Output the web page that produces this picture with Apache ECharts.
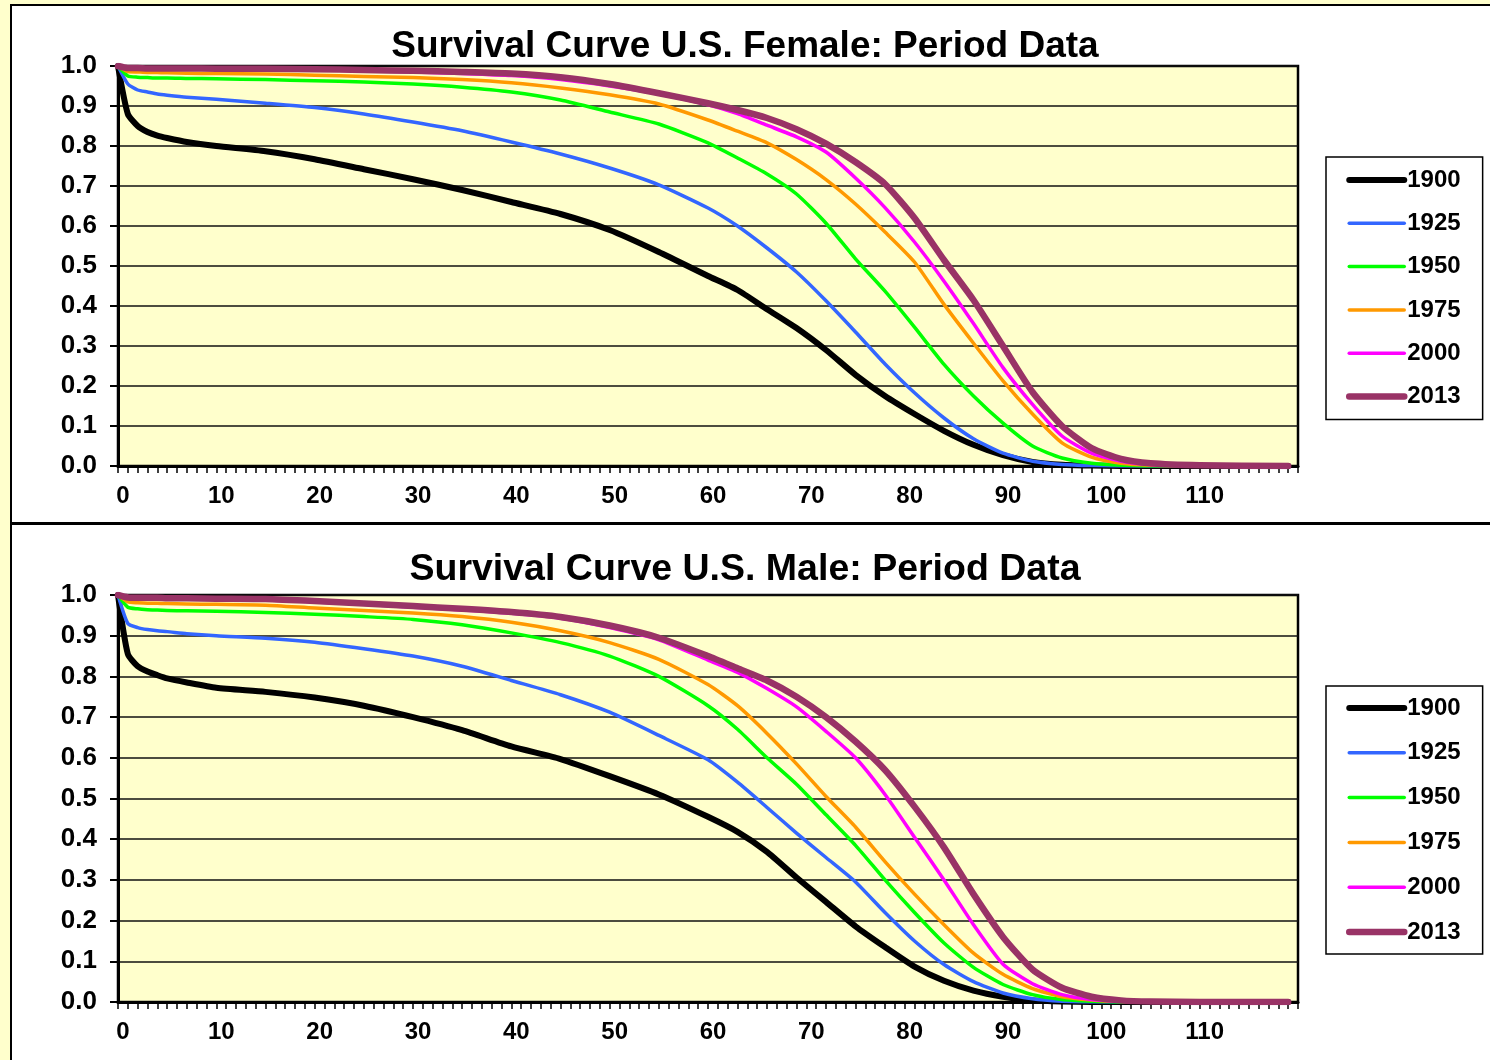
<!DOCTYPE html>
<html>
<head>
<meta charset="utf-8">
<title>Survival Curves U.S.</title>
<script src="https://cdn.jsdelivr.net/npm/echarts@6/dist/echarts.min.js"></script>
<style>
  html, body { margin: 0; padding: 0; background: #FFFFCC; }
  #main { width: 1490px; height: 1060px; }
</style>
</head>
<body>
<div id="main"></div>
<script>
// ages (years) shared by every curve
const ages = [0, 1, 2, 3, 4, 5, 7, 10, 15, 20, 25, 30, 35, 40, 45, 50, 55, 60, 63, 66, 69, 72, 75, 78, 81, 84, 87, 90, 93, 96, 99, 102, 105, 110, 119]

const years = ['1900', '1925', '1950', '1975', '2000', '2013']

// female, fraction surviving
const female1900 = [1.0, 0.88, 0.85, 0.835, 0.826, 0.82, 0.81, 0.80, 0.787, 0.767, 0.742, 0.717, 0.69, 0.66, 0.63, 0.59, 0.535, 0.475, 0.44, 0.392, 0.345, 0.29, 0.228, 0.175, 0.13, 0.088, 0.053, 0.027, 0.01, 0.003, 0.001, 0, 0, 0, 0]
const female1925 = [1.0, 0.955, 0.94, 0.935, 0.93, 0.927, 0.922, 0.917, 0.907, 0.896, 0.88, 0.86, 0.838, 0.81, 0.78, 0.745, 0.703, 0.645, 0.6, 0.545, 0.485, 0.413, 0.335, 0.255, 0.183, 0.12, 0.068, 0.032, 0.012, 0.004, 0.001, 0, 0, 0, 0]
const female1950 = [1.0, 0.975, 0.972, 0.971, 0.97, 0.97, 0.969, 0.968, 0.966, 0.963, 0.96, 0.955, 0.947, 0.935, 0.915, 0.885, 0.855, 0.808, 0.77, 0.73, 0.68, 0.607, 0.518, 0.437, 0.347, 0.254, 0.175, 0.107, 0.05, 0.02, 0.007, 0.002, 0, 0, 0]
const female1975 = [1.0, 0.986, 0.985, 0.984, 0.984, 0.983, 0.982, 0.981, 0.98, 0.977, 0.974, 0.971, 0.966, 0.958, 0.945, 0.928, 0.905, 0.865, 0.837, 0.808, 0.766, 0.716, 0.655, 0.585, 0.51, 0.404, 0.307, 0.213, 0.13, 0.058, 0.022, 0.007, 0.002, 0, 0]
const female2000 = [1.0, 0.994, 0.994, 0.993, 0.993, 0.993, 0.993, 0.992, 0.991, 0.99, 0.988, 0.985, 0.981, 0.976, 0.966, 0.95, 0.93, 0.903, 0.881, 0.852, 0.823, 0.785, 0.72, 0.646, 0.56, 0.462, 0.356, 0.246, 0.154, 0.075, 0.032, 0.012, 0.004, 0.001, 0]
const female2013 = [1.0, 0.995, 0.995, 0.994, 0.994, 0.994, 0.994, 0.993, 0.993, 0.992, 0.99, 0.988, 0.985, 0.981, 0.972, 0.955, 0.932, 0.907, 0.89, 0.87, 0.842, 0.806, 0.76, 0.705, 0.62, 0.515, 0.415, 0.3, 0.185, 0.1, 0.045, 0.018, 0.007, 0.002, 0]

// male, fraction surviving
const male1900 = [1.0, 0.855, 0.825, 0.812, 0.803, 0.795, 0.785, 0.772, 0.762, 0.748, 0.728, 0.70, 0.668, 0.628, 0.597, 0.555, 0.51, 0.455, 0.418, 0.369, 0.306, 0.246, 0.186, 0.135, 0.087, 0.052, 0.028, 0.013, 0.004, 0.001, 0, 0, 0, 0, 0]
const male1925 = [1.0, 0.93, 0.92, 0.915, 0.912, 0.91, 0.905, 0.9, 0.894, 0.884, 0.868, 0.85, 0.825, 0.79, 0.755, 0.712, 0.655, 0.595, 0.54, 0.478, 0.415, 0.355, 0.295, 0.22, 0.15, 0.092, 0.05, 0.022, 0.008, 0.002, 0, 0, 0, 0, 0]
const male1950 = [1.0, 0.97, 0.966, 0.964, 0.963, 0.962, 0.961, 0.96, 0.957, 0.953, 0.947, 0.94, 0.927, 0.907, 0.883, 0.85, 0.8, 0.728, 0.67, 0.6, 0.535, 0.46, 0.385, 0.30, 0.22, 0.145, 0.085, 0.043, 0.018, 0.006, 0.002, 0, 0, 0, 0]
const male1975 = [1.0, 0.983, 0.981, 0.98, 0.98, 0.979, 0.978, 0.977, 0.975, 0.968, 0.962, 0.956, 0.947, 0.933, 0.912, 0.883, 0.842, 0.78, 0.728, 0.66, 0.585, 0.505, 0.43, 0.345, 0.265, 0.19, 0.12, 0.068, 0.033, 0.013, 0.005, 0.001, 0, 0, 0]
const male2000 = [1.0, 0.993, 0.992, 0.992, 0.992, 0.991, 0.991, 0.99, 0.988, 0.983, 0.977, 0.97, 0.963, 0.955, 0.943, 0.92, 0.89, 0.84, 0.81, 0.77, 0.725, 0.665, 0.6, 0.51, 0.405, 0.3, 0.19, 0.093, 0.045, 0.018, 0.006, 0.002, 0, 0, 0]
const male2013 = [1.0, 0.994, 0.993, 0.993, 0.993, 0.992, 0.992, 0.991, 0.99, 0.985, 0.979, 0.973, 0.966, 0.958, 0.946, 0.925, 0.895, 0.85, 0.82, 0.79, 0.75, 0.70, 0.64, 0.57, 0.48, 0.38, 0.265, 0.16, 0.08, 0.035, 0.013, 0.004, 0.001, 0, 0]

const femaleData = [female1900, female1925, female1950, female1975, female2000, female2013]
const maleData = [male1900, male1925, male1950, male1975, male2000, male2013]

const colors = ['#000000', '#3366FF', '#00FF00', '#FF9900', '#FF00FF', '#993366']
const widths = [6, 3.5, 3.5, 3.5, 3.5, 6.5]
const font = 'Arial, "Liberation Sans", sans-serif'

var myChart = echarts.init(document.getElementById('main'))

function makeSeries (list, axisIndex) {
  return list.map(function (vals, i) {
    return {
      name: years[i],
      type: 'line',
      xAxisIndex: axisIndex,
      yAxisIndex: axisIndex,
      symbol: 'none',
      silent: true,
      smooth: 0.2,
      lineStyle: { color: colors[i], width: widths[i], cap: 'round', join: 'round' },
      itemStyle: { color: colors[i] },
      data: ages.map(function (a, k) { return [a, vals[k]] })
    }
  })
}

function xAxisOf (gridIndex) {
  return {
    type: 'value',
    gridIndex: gridIndex,
    min: 0,
    max: 120,
    interval: 10,
    axisLine: { show: true, lineStyle: { color: '#000', width: 3 } },
    axisTick: { show: true, length: 7, lineStyle: { color: '#000', width: 1.5 } },
    minorTick: { show: true, splitNumber: 10, length: 7, lineStyle: { color: '#000', width: 1.5 } },
    splitLine: { show: false },
    axisLabel: {
      margin: 18,
      padding: [0, 0, 0, 10],
      fontSize: 24,
      fontWeight: 'bold',
      color: '#000',
      fontFamily: font,
      showMaxLabel: false
    }
  }
}

function yAxisOf (gridIndex) {
  return {
    type: 'value',
    gridIndex: gridIndex,
    min: 0,
    max: 1,
    interval: 0.1,
    axisLine: { show: true, lineStyle: { color: '#000', width: 3 } },
    axisTick: { show: true, length: 8, lineStyle: { color: '#000', width: 2 } },
    splitLine: { show: true, lineStyle: { color: '#111', width: 1.5 } },
    axisLabel: {
      margin: 21,
      fontSize: 26,
      fontWeight: 'bold',
      color: '#000',
      fontFamily: font,
      formatter: function (v) { return v.toFixed(1) }
    }
  }
}

function legendOf (top, gap, pad) {
  return {
    orient: 'vertical',
    left: 1326,
    top: top,
    data: years.map(function (y, i) {
      return { name: y, lineStyle: { width: widths[i], cap: 'round' } }
    }),
    itemWidth: 55,
    itemHeight: 14,
    itemGap: gap,
    padding: [pad, 22, pad, 20],
    backgroundColor: '#fff',
    borderColor: '#000',
    borderWidth: 1.5,
    borderRadius: 0,
    selectedMode: false,
    itemStyle: { opacity: 0 },
    textStyle: { fontSize: 24, fontWeight: 'bold', color: '#000', fontFamily: font, padding: [0, 0, 0, -2] }
  }
}

var option = {
  backgroundColor: '#FFFFCC',
  animation: false,
  graphic: [
    { type: 'rect', z: -10, shape: { x: 11, y: 5, width: 1500, height: 518 }, style: { fill: '#fff', stroke: '#000', lineWidth: 2 } },
    { type: 'rect', z: -10, shape: { x: 11, y: 524, width: 1500, height: 560 }, style: { fill: '#fff', stroke: '#000', lineWidth: 2 } }
  ],
  title: [
    {
      text: 'Survival Curve U.S. Female: Period Data',
      left: 'center',
      top: 23,
      textStyle: { fontSize: 37, fontWeight: 'bold', color: '#000', fontFamily: font }
    },
    {
      text: 'Survival Curve U.S. Male: Period Data',
      left: 'center',
      top: 546,
      textStyle: { fontSize: 37.5, fontWeight: 'bold', color: '#000', fontFamily: font }
    }
  ],
  legend: [legendOf(157, 19.3, 11), legendOf(686, 20.8, 10)],
  grid: [
    { left: 118, top: 66, width: 1180, height: 400, show: true, backgroundColor: '#FFFFCC', borderColor: '#000', borderWidth: 2.5 },
    { left: 118, top: 595, width: 1180, height: 407, show: true, backgroundColor: '#FFFFCC', borderColor: '#000', borderWidth: 2.5 }
  ],
  xAxis: [xAxisOf(0), xAxisOf(1)],
  yAxis: [yAxisOf(0), yAxisOf(1)],
  series: makeSeries(femaleData, 0).concat(makeSeries(maleData, 1))
}

myChart.setOption(option)
</script>
</body>
</html>
